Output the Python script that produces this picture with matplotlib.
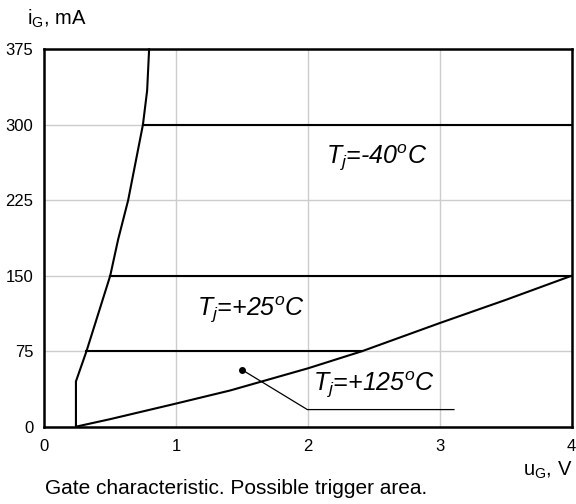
import matplotlib
matplotlib.use("Agg")
import matplotlib.pyplot as plt

plt.rcParams['font.family'] = ['Liberation Sans', 'DejaVu Sans']
plt.rcParams['mathtext.fontset'] = 'custom'
plt.rcParams['mathtext.rm'] = 'Liberation Sans'
plt.rcParams['mathtext.it'] = 'Liberation Sans:italic'
plt.rcParams['mathtext.bf'] = 'Liberation Sans:bold'

# Data
x_ticks = [0, 1, 2, 3, 4]
y_ticks = [0, 75, 150, 225, 300, 375]

# left boundary (upper gate voltage limit curve)
left_u = [0.24, 0.24, 0.32, 0.50, 0.56, 0.636, 0.748, 0.78, 0.795]
left_i = [0, 45, 75, 150, 186, 225, 300, 334, 375]

# lower boundary (Tj=+125C characteristic)
low_u = [0.24, 0.5, 1.0, 1.41, 2.0, 2.41, 3.0, 3.5, 4.0]
low_i = [0, 7.5, 23, 36, 58, 75, 103, 126, 150]

# horizontal trigger levels: (start u, end u, current)
lvl_start = [0.32, 0.50, 0.748]
lvl_end = [2.41, 4.0, 4.0]
lvl_i = [75, 150, 300]

# annotation leader
lead_u = [1.5, 1.995, 3.107]
lead_i = [56.5, 17, 17]

labels = [r"$T_j$=-40$^o$C", r"$T_j$=+25$^o$C", r"$T_j$=+125$^o$C"]
label_u = [2.52, 1.57, 2.5]
label_i = [267, 116, 41.6]

fig = plt.figure(figsize=(5.76, 5.04), dpi=100)
ax = fig.add_axes([0.0769, 0.1534, 0.9156, 0.7488])

ax.set_xlim(0, 4)
ax.set_ylim(0, 375)
ax.set_xticks(x_ticks)
ax.set_yticks(y_ticks)
ax.set_xticklabels([str(v) for v in x_ticks])
ax.set_yticklabels([str(v) for v in y_ticks])
ax.tick_params(length=0, labelsize=12, colors='black')
ax.tick_params(axis='y', pad=8)
ax.tick_params(axis='x', pad=9)
ax.grid(True, color='#cccccc', linewidth=1.0)
ax.set_axisbelow(True)
for s in ax.spines.values():
    s.set_linewidth(1.8)
    s.set_color('black')

lw = 1.5
ax.plot(left_u, left_i, color='black', lw=lw, clip_on=False, solid_joinstyle='miter')
ax.plot(low_u, low_i, color='black', lw=lw, clip_on=False)
for s0, s1, lv in zip(lvl_start, lvl_end, lvl_i):
    ax.plot([s0, s1], [lv, lv], color='black', lw=lw, clip_on=False)

ax.plot(lead_u, lead_i, color='black', lw=0.9)
ax.plot([lead_u[0]], [lead_i[0]], 'o', color='black', ms=4)

for t, u, i in zip(labels, label_u, label_i):
    ax.text(u, i, t, fontsize=18, style='italic', ha='center', va='center')

fig.text(27/576, 1 - 19/504, r"i$_\mathrm{G}$, mA", fontsize=14.5, ha='left', va='center')
fig.text(572/576, 1 - 470/504, r"u$_\mathrm{G}$, V", fontsize=14.5, ha='right', va='center')
fig.text(45/576, 1 - 488/504, "Gate characteristic. Possible trigger area.", fontsize=15, ha='left', va='center')

fig.savefig("out.png", dpi=100)
